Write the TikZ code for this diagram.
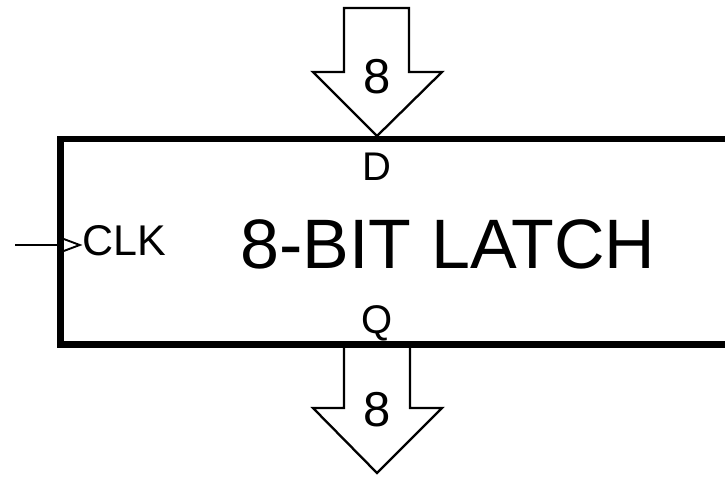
\documentclass[tikz,border=0pt]{standalone}
\usepackage{fontspec}
\setmainfont{Liberation Sans}
\usetikzlibrary{positioning,calc}

\begin{document}
\begin{tikzpicture}[x=1pt,y=-1pt,
  box/.style={draw,line width=6.5pt,minimum width=680pt,minimum height=205.5pt,inner sep=0pt},
  bus/.style={draw,line width=2.3pt,line join=miter},
  wire/.style={draw,line width=1.9pt},
  pin/.style={font=\fontsize{40}{40}\selectfont,inner sep=0pt,anchor=base},
  busw/.style={font=\fontsize{49}{49}\selectfont,inner sep=0pt,anchor=base},
  title/.style={font=\fontsize{70}{70}\selectfont,inner sep=0pt,anchor=base}]
\useasboundingbox (0,0) rectangle (725,477);
\clip (0,0) rectangle (725,477);
\node[box] (latch) at (400.5,241.75) {};
\node[title] (name) at (448,268) {8-BIT LATCH};
\node[pin] (d) at (377,180) {D};
\node[pin] (q) at (377,333) {Q};
\node[pin,anchor=base west,font=\fontsize{43}{43}\selectfont] (clk) at (82,255) {CLK};
% data in bus
\coordinate (dtip) at (377,136);
\draw[bus] (dtip) -- ++(-64,-64) -- ++(31,0) -- ++(0,-64) -- ++(65,0) -- ++(0,64) -- ++(33,0) -- cycle;
\node[busw] (dbus) at (377,93) {8};
% data out bus
\coordinate (qout) at (377,347);
\draw[bus] (qout) ++(-33,0) -- ++(0,61) -- ++(-31,0) -- ++(64,65) -- ++(65,-65) -- ++(-32,0) -- ++(0,-61);
\node[busw] (qbus) at (377,426) {8};
% clock
\coordinate (clkin) at (15,245);
\draw[wire] (clkin) -- (latch.west |- clkin);
\draw[wire] ($(latch.west |- clkin)+(2.5,-7.5)$) -- ++(20,7.5) -- ++(-20,7.5);
\end{tikzpicture}
\end{document}
